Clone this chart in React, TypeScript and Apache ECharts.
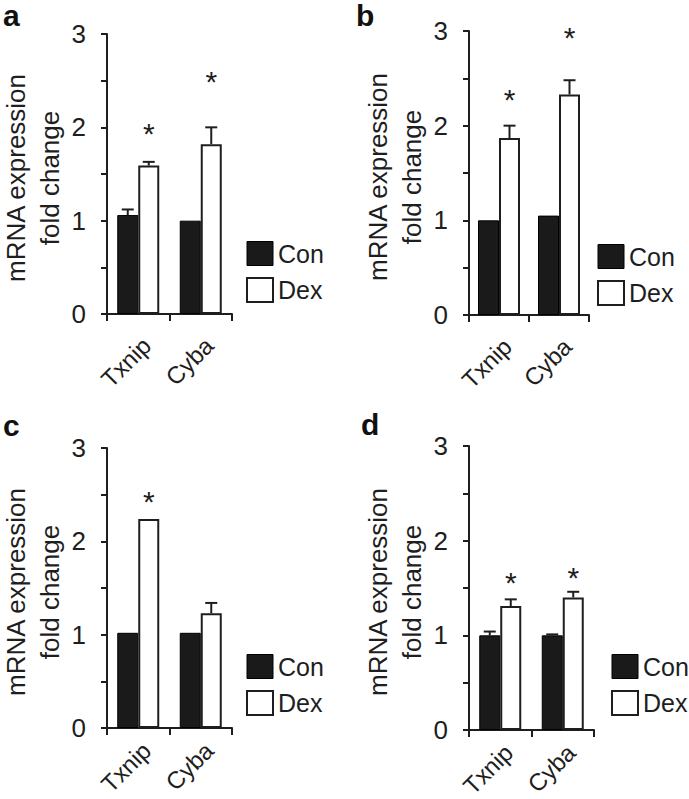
import React, { useEffect, useRef } from "react";
import * as echarts from "echarts";

const categories = ["Txnip", "Cyba"];
const seriesNames = ["Con", "Dex"];
const panelLetters = ["a", "b", "c", "d"];
const yTickValues = [0, 1, 2, 3];
const yAxisTitle = "mRNA expression\nfold change";

// Panel a
const conA = [1.06, 1.0];
const conErrA: (number | null)[] = [1.12, null];
const dexA = [1.59, 1.82];
const dexErrA: (number | null)[] = [1.63, 2.0];
const starA: (number | null)[] = [1.99, 2.55];
// Panel b
const conB = [1.0, 1.05];
const conErrB: (number | null)[] = [null, null];
const dexB = [1.87, 2.33];
const dexErrB: (number | null)[] = [2.0, 2.48];
const starB: (number | null)[] = [2.33, 2.98];
// Panel c
const conC = [1.02, 1.02];
const conErrC: (number | null)[] = [null, null];
const dexC = [2.24, 1.23];
const dexErrC: (number | null)[] = [null, 1.34];
const starC: (number | null)[] = [2.48, null];
// Panel d
const conD = [1.0, 1.0];
const conErrD: (number | null)[] = [1.04, 1.01];
const dexD = [1.31, 1.4];
const dexErrD: (number | null)[] = [1.38, 1.46];
const starD: (number | null)[] = [1.61, 1.66];

const panels = [
  { con: conA, conErr: conErrA, dex: dexA, dexErr: dexErrA, star: starA },
  { con: conB, conErr: conErrB, dex: dexB, dexErr: dexErrB, star: starB },
  { con: conC, conErr: conErrC, dex: dexC, dexErr: dexErrC, star: starC },
  { con: conD, conErr: conErrD, dex: dexD, dexErr: dexErrD, star: starD },
];

const FONT = "'Liberation Sans', Arial, Helvetica, sans-serif";
const INK = "#1e1e1e";
const BAR_W = 21;
const CAP = 12;

const grids = [
  { left: 107, top: 34, width: 125, height: 280 },
  { left: 469, top: 31, width: 120, height: 284 },
  { left: 107, top: 448, width: 125, height: 280 },
  { left: 469, top: 446, width: 125, height: 284 },
];
const xLabelMargins = [19, 19, 10, 10];
const legendPos = [
  { left: 241, top: 236 },
  { left: 592, top: 239 },
  { left: 241, top: 649 },
  { left: 606, top: 649 },
];
const letterPos = [
  { x: 3, y: 14 },
  { x: 356, y: 14 },
  { x: 3, y: 424 },
  { x: 361, y: 423 },
];

export default function App() {
  const ref = useRef<HTMLDivElement>(null);
  useEffect(() => {
    if (!ref.current) return;
    const chart = echarts.init(ref.current, null, { renderer: "svg" });

    const xAxis = grids.map((_, p) => ({
      type: "category",
      gridIndex: p,
      data: categories,
      boundaryGap: true,
      axisLine: { lineStyle: { color: INK, width: 2 } },
      axisTick: { show: true, length: 7, alignWithLabel: false, interval: 0, lineStyle: { color: INK, width: 2 } },
      axisLabel: {
        rotate: 45,
        fontSize: 24,
        color: INK,
        fontFamily: FONT,
        margin: xLabelMargins[p],
        align: "right",
        verticalAlign: "top",
        interval: 0,
      },
    }));
    const yAxis = grids.map((_, p) => ({
      type: "value",
      gridIndex: p,
      min: 0,
      max: 3,
      interval: 0.5,
      name: yAxisTitle,
      nameLocation: "middle",
      nameRotate: 90,
      nameGap: 40,
      nameTextStyle: { fontSize: 26, lineHeight: 34, color: INK, fontFamily: FONT, padding: [0, 8, 0, 0] },
      splitLine: { show: false },
      axisLine: { show: true, lineStyle: { color: INK, width: 2 } },
      axisTick: { show: true, length: 6, lineStyle: { color: INK, width: 2 } },
      axisLabel: {
        fontSize: 26,
        color: INK,
        fontFamily: FONT,
        margin: 21,
        formatter: (v: number) => (yTickValues.indexOf(v) >= 0 ? String(v) : ""),
      },
    }));

    const series: any[] = [];
    panels.forEach((pd, p) => {
      series.push({
        type: "bar",
        name: seriesNames[0],
        xAxisIndex: p,
        yAxisIndex: p,
        data: pd.con,
        barWidth: BAR_W,
        barGap: "0%",
        itemStyle: { color: "#1a1a1a", borderColor: "#000", borderWidth: 1 },
      });
      series.push({
        type: "bar",
        name: seriesNames[1],
        xAxisIndex: p,
        yAxisIndex: p,
        data: pd.dex,
        barWidth: BAR_W,
        barGap: "0%",
        itemStyle: { color: "#ffffff", borderColor: INK, borderWidth: 2 },
      });
      series.push({
        type: "custom",
        xAxisIndex: p,
        yAxisIndex: p,
        z: 5,
        data: categories.map((_, i) => [i, pd.dex[i]]),
        renderItem: (params: any, api: any) => {
          const i = params.dataIndex;
          const cx = api.coord([i, 0])[0];
          const children: any[] = [];
          const addErr = (val: number, err: number | null, dx: number) => {
            if (err == null) return;
            const x = cx + dx;
            const yb = api.coord([i, val])[1];
            const yt = api.coord([i, err])[1];
            children.push({ type: "line", shape: { x1: x, y1: yb, x2: x, y2: yt }, style: { stroke: INK, lineWidth: 2 } });
            children.push({ type: "line", shape: { x1: x - CAP / 2, y1: yt, x2: x + CAP / 2, y2: yt }, style: { stroke: INK, lineWidth: 2 } });
          };
          addErr(pd.con[i], pd.conErr[i], -BAR_W / 2);
          addErr(pd.dex[i], pd.dexErr[i], BAR_W / 2);
          const s = pd.star[i];
          if (s != null) {
            const ys = api.coord([i, s])[1];
            children.push({
              type: "text",
              x: cx + BAR_W / 2,
              y: ys + 5,
              style: { text: "*", fontSize: 30, fontFamily: FONT, fill: INK, align: "center", verticalAlign: "middle" },
            });
          }
          return { type: "group", children };
        },
      });
    });

    const legend = legendPos.map((lp) => ({
      left: lp.left,
      top: lp.top,
      orient: "vertical",
      icon: "rect",
      itemWidth: 26,
      itemHeight: 24,
      itemGap: 11,
      selectedMode: false,
      textStyle: { fontSize: 25, color: INK, fontFamily: FONT },
      data: [
        { name: seriesNames[0], itemStyle: { color: "#1a1a1a", borderColor: "#000", borderWidth: 1 } },
        { name: seriesNames[1], itemStyle: { color: "#ffffff", borderColor: INK, borderWidth: 2 } },
      ],
    }));

    const graphic = panelLetters.map((t, p) => ({
      type: "text",
      left: letterPos[p].x,
      top: letterPos[p].y - 14,
      style: { text: t, fontSize: 30, fontWeight: "bold", fontFamily: FONT, fill: "#111" },
    }));

    chart.setOption({
      animation: false,
      backgroundColor: "#ffffff",
      textStyle: { fontFamily: FONT },
      grid: grids.map((g) => ({ ...g, containLabel: false, outerBoundsMode: "none" })),
      xAxis,
      yAxis,
      legend,
      graphic,
      series,
    });
    return () => chart.dispose();
  }, []);

  return <div ref={ref} style={{ width: 689, height: 799, position: "absolute", left: 0, top: 0 }} />;
}
